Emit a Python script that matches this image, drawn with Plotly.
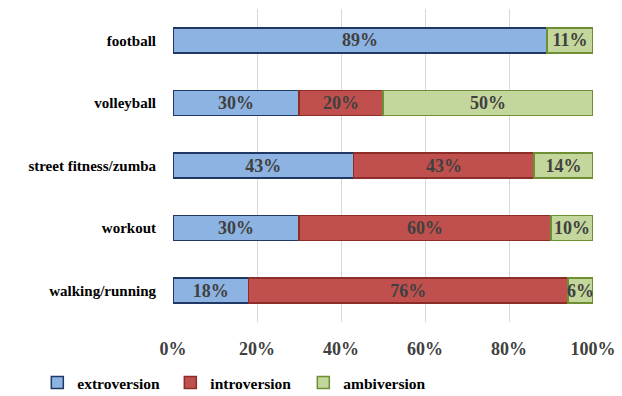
import plotly.graph_objects as go

categories = ["football", "volleyball", "street fitness/zumba", "workout", "walking/running"]
extroversion = [89, 30, 43, 30, 18]
introversion = [0, 20, 43, 60, 76]
ambiversion = [11, 50, 14, 10, 6]
tick_vals = [0, 20, 40, 60, 80, 100]
tick_text = ["0%", "20%", "40%", "60%", "80%", "100%"]

series = [
    ("extroversion", extroversion, "#8DB3E2", "#1F3864"),
    ("introversion", introversion, "#C0504D", "#8C2D2A"),
    ("ambiversion", ambiversion, "#C3D69B", "#6E8F34"),
]

font_family = "Liberation Serif"

fig = go.Figure()
for name, vals, fill, line in series:
    fig.add_trace(go.Bar(
        name=f"<b>{name}</b>",
        y=categories,
        x=vals,
        orientation="h",
        marker=dict(color=fill, line=dict(color=line, width=1.5)),
        text=[f"<b>{v}%</b>" if v > 0 else "" for v in vals],
        textposition="inside",
        insidetextanchor="middle",
        textangle=0,
        constraintext="none",
        textfont=dict(family=font_family, size=18, color="#404040"),
        width=0.4,
        hoverinfo="skip",
    ))

fig.update_layout(
    barmode="stack",
    width=622,
    height=396,
    margin=dict(l=173, r=29, t=9, b=74, autoexpand=False),
    paper_bgcolor="white",
    plot_bgcolor="white",
    font=dict(family=font_family, color="#000000"),
    xaxis=dict(
        range=[0, 100],
        tickvals=tick_vals,
        ticktext=[f"<b>{t}</b>" for t in tick_text],
        tickfont=dict(family=font_family, size=18, color="#404040"),
        showgrid=True,
        gridcolor="#D9D9D9",
        gridwidth=1,
        zeroline=False,
        showline=False,
        ticks="",
        ticklabelstandoff=14,
        automargin=False,
    ),
    yaxis=dict(
        categoryorder="array",
        categoryarray=categories[::-1],
        tickvals=categories,
        ticktext=[f"<b>{c}</b>" for c in categories],
        tickfont=dict(family=font_family, size=15, color="#000000"),
        showgrid=False,
        zeroline=False,
        showline=False,
        ticks="",
        ticklabelstandoff=16,
        automargin=False,
    ),
    legend=dict(
        orientation="h",
        xref="container",
        yref="container",
        x=0.06,
        y=0.033,
        xanchor="left",
        yanchor="middle",
        font=dict(family=font_family, size=15.5, color="#000000"),
        traceorder="normal",
        itemwidth=30,
        entrywidth=88,
        entrywidthmode="pixels",
    ),
)

fig.write_html("out.html")
